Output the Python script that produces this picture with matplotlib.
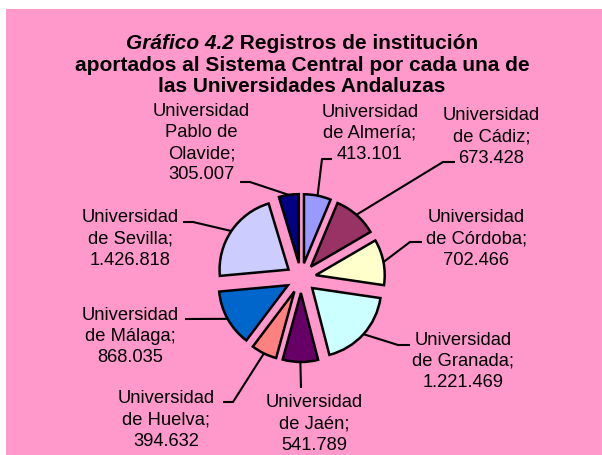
import matplotlib
matplotlib.use("Agg")
import matplotlib.pyplot as plt
from matplotlib.patches import Rectangle
import numpy as np

plt.rcParams['font.family'] = ['Liberation Sans', 'DejaVu Sans']

# ---------------- data ----------------
name_lines = [
    "Universidad\nde Almería",
    "Universidad\nde Cádiz",
    "Universidad\nde Córdoba",
    "Universidad\nde Granada",
    "Universidad\nde Jaén",
    "Universidad\nde Huelva",
    "Universidad\nde Málaga",
    "Universidad\nde Sevilla",
    "Universidad\nPablo de\nOlavide",
]
values = [413101, 673428, 702466, 1221469, 541789, 394632, 868035, 1426818, 305007]
colors = ["#9999FF", "#993366", "#FFFFCC", "#CCFFFF", "#660066",
          "#FF8080", "#0066CC", "#CCCCFF", "#000080"]

title_italic = "Gráfico 4.2"
title_rest = [" Registros de institución",
              "aportados al Sistema Central por cada una de",
              "las Universidades Andaluzas"]

# ---------------- layout (pixel coords, y downward) ----------------
W, H = 602, 456
label_pos = [(370, 133.5), (491.5, 137), (476.5, 239), (463.3, 361.4),
             (314.5, 424), (166.5, 420), (130.5, 336.7), (130, 239), (201.5, 143)]
leader_pts = [
    [(322, 160), (332, 160)],
    [(443, 163), (455, 163)],
    [(410, 243), (422, 243)],
    [(398, 346), (410, 346)],
    [(301, 389)],
    [(233, 403), (223, 403)],
    [(185, 320)],
    [(193, 223), (183, 223)],
    [(250, 183), (240, 183)],
]


def Y(py):
    return H - py


def fmt(v):
    return f"{v:,}".replace(",", ".")


fig = plt.figure(figsize=(W / 100, H / 100), dpi=100)
fig.patch.set_facecolor("white")
ax = fig.add_axes([0, 0, 1, 1])

ax.add_patch(Rectangle((6, 0), W - 6, H - 10, facecolor="#FF99CC",
                       edgecolor="none", zorder=0))

wedges, _ = ax.pie(values, colors=colors, startangle=90, counterclock=False,
                   radius=69, center=(301, Y(279)), explode=[15] * len(values),
                   frame=True,
                   wedgeprops=dict(edgecolor="black", linewidth=1.8, zorder=3))

for w, name, v, (lx, ly), pts in zip(wedges, name_lines, values, label_pos, leader_pts):
    th = np.deg2rad((w.theta1 + w.theta2) / 2)
    cx, cy = w.center
    ax0 = cx + w.r * np.cos(th)
    ay0 = cy + w.r * np.sin(th)
    xs = [ax0] + [p[0] for p in pts]
    ys = [ay0] + [Y(p[1]) for p in pts]
    ax.plot(xs, ys, color="black", lw=1.5, zorder=2, solid_capstyle="butt")
    ax.text(lx, Y(ly), f"{name};\n{fmt(v)}", ha="center", va="center",
            multialignment="center", fontsize=13.2, linespacing=1.33, zorder=4)

ax.set_xlim(0, W)
ax.set_ylim(0, H)
ax.set_aspect("auto")
ax.axis("off")

# title
tfs = 15
base = [48.5, 70.5, 92.5]
fig.canvas.draw()
r = fig.canvas.get_renderer()
t1 = ax.text(0, Y(base[0]), title_italic, fontsize=tfs, fontweight="bold",
             fontstyle="italic", ha="left", va="baseline")
t2 = ax.text(0, Y(base[0]), title_rest[0], fontsize=tfs, fontweight="bold",
             ha="left", va="baseline")
w1 = t1.get_window_extent(r).width
w2 = t2.get_window_extent(r).width
x0 = 302 - (w1 + w2) / 2
t1.set_x(x0)
t2.set_x(x0 + w1)
for s, b in zip(title_rest[1:], base[1:]):
    ax.text(302, Y(b), s, fontsize=tfs, fontweight="bold", ha="center", va="baseline")

fig.savefig("out.png", dpi=100, facecolor="white")
